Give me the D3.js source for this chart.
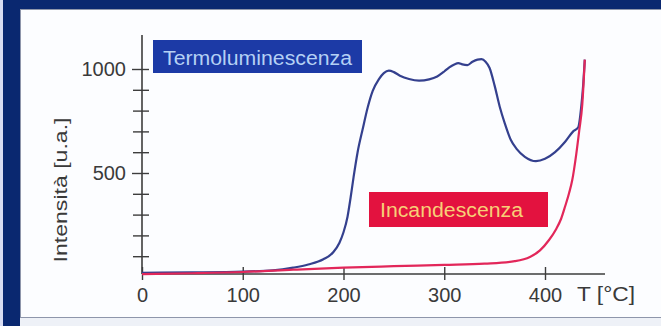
<!DOCTYPE html>
<html>
<head>
<meta charset="utf-8">
<script src="https://cdn.jsdelivr.net/npm/d3@7"></script>
<style>
  html, body { margin: 0; padding: 0; background: #0a2870; }
  svg { display: block; }
</style>
</head>
<body>
<svg id="chart" width="661" height="326"></svg>
<script>
// Temperature (°C) and intensity (u.a.) samples for each curve
const tlTemps = [0, 50, 100, 130, 150, 165, 180, 190, 196, 200, 204, 207, 210, 214, 219, 224, 229, 235, 240, 245, 250, 256, 265, 275, 285, 293, 300, 305, 310, 314, 318, 323, 328, 333, 337, 341, 345, 350, 355, 360, 366, 372, 380, 391, 400, 410, 420, 428, 433, 436, 438, 439.5];
const tlValues = [20, 22, 26, 32, 45, 60, 85, 120, 165, 215, 290, 380, 480, 600, 710, 815, 895, 950, 980, 992, 985, 968, 952, 944, 950, 964, 988, 1008, 1022, 1028, 1022, 1019, 1035, 1045, 1047, 1035, 1005, 920, 820, 740, 660, 615, 578, 557, 568, 600, 650, 700, 720, 820, 930, 1045];

const incTemps = [0, 50, 100, 150, 200, 250, 300, 340, 370, 385, 395, 404, 411, 416, 420, 424, 427, 431, 434, 437, 439.5];
const incValues = [14, 18, 24, 35, 45, 52, 58, 64, 76, 96, 128, 178, 230, 280, 340, 405, 465, 590, 705, 830, 1045];

const xTicks = [0, 100, 200, 300, 400];
const yTicks = [100, 200, 300, 400, 500, 600, 700, 800, 900, 1000];
const yLabelled = [500, 1000];

const svg = d3.select("#chart");

// frame
svg.append("rect").attr("x", 0).attr("y", 0).attr("width", 3).attr("height", 326).attr("fill", "#d9ddf2");
svg.append("rect").attr("x", 20).attr("y", 318).attr("width", 641).attr("height", 8).attr("fill", "#eef1f7");
svg.append("rect").attr("x", 20.5).attr("y", 9.5).attr("width", 641).attr("height", 308)
  .attr("fill", "#fcfdff").attr("stroke", "#8e96ab").attr("stroke-width", 1);

const x = d3.scaleLinear().domain([0, 400]).range([142, 545]);
const y = d3.scaleLinear().domain([0, 1000]).range([277, 69]);
const axisY = 274;

const axisColor = "#3d3d3d";
const font = "'Liberation Sans', Arial, sans-serif";

// x axis
const xAxis = svg.append("g").attr("transform", `translate(0,${axisY})`)
  .call(d3.axisBottom(x).tickValues(xTicks).tickSize(0).tickPadding(0).tickFormat(d3.format("d")));
xAxis.select(".domain").remove();
xAxis.append("line").attr("x1", 142).attr("x2", 605).attr("y1", 0).attr("y2", 0)
  .attr("stroke", axisColor).attr("stroke-width", 1.6);
xAxis.selectAll(".tick").append("line").attr("y1", -7).attr("y2", 6)
  .attr("stroke", axisColor).attr("stroke-width", 1.4);
xAxis.selectAll(".tick text").attr("y", 28).attr("dy", null)
  .attr("font-family", font).attr("font-size", 20).attr("fill", "#3a3a3a");
xAxis.append("text").attr("x", 577).attr("y", 27)
  .attr("text-anchor", "start")
  .attr("font-family", font).attr("font-size", 21).attr("fill", "#3a3a3a")
  .attr("textLength", 58).attr("lengthAdjust", "spacingAndGlyphs")
  .text("T [°C]");

// y axis
const yAxis = svg.append("g").attr("transform", "translate(142,0)")
  .call(d3.axisLeft(y).tickValues(yTicks).tickSize(0).tickPadding(16)
    .tickFormat(d => yLabelled.includes(d) ? d : ""));
yAxis.select(".domain").remove();
yAxis.append("line").attr("x1", 0).attr("x2", 0).attr("y1", 35).attr("y2", axisY)
  .attr("stroke", axisColor).attr("stroke-width", 1.6);
yAxis.selectAll(".tick").append("line").attr("x1", d => yLabelled.includes(d) ? -10 : -9).attr("x2", 7)
  .attr("stroke", axisColor).attr("stroke-width", 1.4);
yAxis.selectAll(".tick text")
  .attr("font-family", font).attr("font-size", 20).attr("fill", "#3a3a3a");

svg.append("text")
  .attr("transform", "translate(67,190) rotate(-90)")
  .attr("text-anchor", "middle")
  .attr("font-family", font).attr("font-size", 19).attr("fill", "#3a3a3a")
  .attr("textLength", 145).attr("lengthAdjust", "spacingAndGlyphs")
  .text("Intensità [u.a.]");

// curves
const line = d3.line().x(d => x(d[0])).y(d => y(d[1])).curve(d3.curveMonotoneX);
const tl = tlTemps.map((t, i) => [t, tlValues[i]]);
const inc = incTemps.map((t, i) => [t, incValues[i]]);

svg.append("path").datum(tl).attr("d", line)
  .attr("fill", "none").attr("stroke", "#34408e").attr("stroke-width", 2.2);
svg.append("path").datum(inc).attr("d", line)
  .attr("fill", "none").attr("stroke", "#e2275a").attr("stroke-width", 2.2);

// labels
svg.append("rect").attr("x", 153).attr("y", 40).attr("width", 209).attr("height", 33).attr("fill", "#1c3aa6");
svg.append("text").attr("x", 163).attr("y", 65)
  .attr("font-family", font).attr("font-size", 20).attr("fill", "#b4d0f4")
  .attr("textLength", 189).attr("lengthAdjust", "spacingAndGlyphs")
  .text("Termoluminescenza");

svg.append("rect").attr("x", 369).attr("y", 192).attr("width", 179).attr("height", 35).attr("fill", "#e3123f");
svg.append("text").attr("x", 380).attr("y", 217)
  .attr("font-family", font).attr("font-size", 20).attr("fill", "#f7cf77")
  .attr("textLength", 143).attr("lengthAdjust", "spacingAndGlyphs")
  .text("Incandescenza");
</script>
</body>
</html>
